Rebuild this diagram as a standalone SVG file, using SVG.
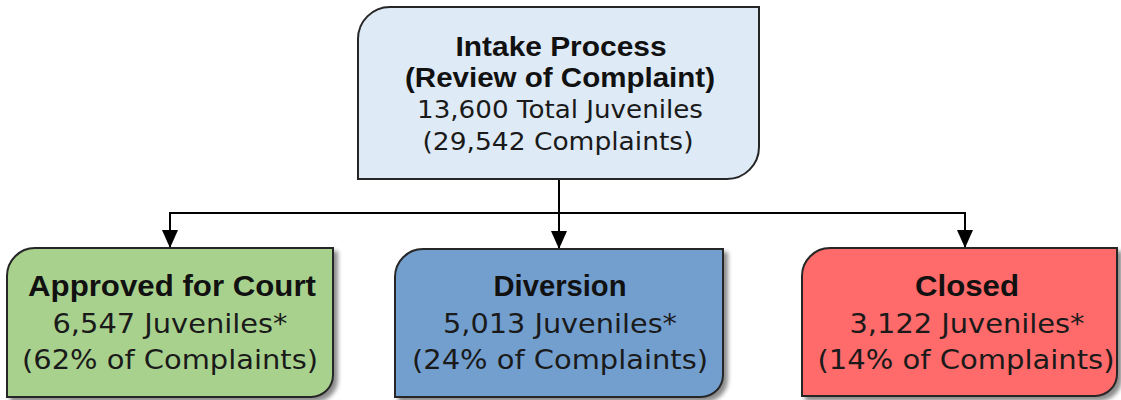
<svg xmlns="http://www.w3.org/2000/svg" width="1121" height="400" viewBox="0 0 1121 400">
<style>
.box{stroke:#262626;stroke-width:2}
.h{font-family:"Liberation Sans",Arial,sans-serif;font-weight:bold;fill:#111;text-anchor:middle}
.r{font-family:"DejaVu Sans","Liberation Sans",sans-serif;fill:#1a1a1a;text-anchor:middle}
.ht{font-size:27px}
.top{font-size:25px}
.hb{font-size:29px}
.bot{font-size:27px}
.conn{fill:none;stroke:#000;stroke-width:2}
</style>
<defs>
<marker id="arr" markerUnits="userSpaceOnUse" markerWidth="18" markerHeight="18" viewBox="0 0 18 18" refX="18" refY="9" orient="auto">
<path d="M0,1 L18,9 L0,17 Z" fill="#000"/>
</marker>
<filter id="sh" x="-5%" y="-5%" width="115%" height="120%">
<feDropShadow dx="4" dy="4" stdDeviation="2" flood-color="#000" flood-opacity="0.45"/>
</filter>
</defs>
<g id="connectors">
<path class="conn" d="M559,179 V249" marker-end="url(#arr)"/>
<path class="conn" d="M170,213 H965"/>
<path class="conn" d="M170,212 V248" marker-end="url(#arr)"/>
<path class="conn" d="M965,212 V248" marker-end="url(#arr)"/>
</g>
<g id="intake">
<path class="box" fill="#DEEAF6" d="M390,7 H759 V147 A32,32 0 0 1 727,179 H358 V39 A32,32 0 0 1 390,7 Z"/>
<text class="h ht" x="561" y="56" textLength="211" lengthAdjust="spacingAndGlyphs">Intake Process</text>
<text class="h ht" x="560" y="87" textLength="310" lengthAdjust="spacingAndGlyphs">(Review of Complaint)</text>
<text class="r top" x="560" y="118" textLength="286" lengthAdjust="spacingAndGlyphs">13,600 Total Juveniles</text>
<text class="r top" x="558" y="150" textLength="271" lengthAdjust="spacingAndGlyphs">(29,542 Complaints)</text>
</g>
<g id="approved">
<path class="box" fill="#A9D18E" filter="url(#sh)" d="M35,248 H333 V375 A22,22 0 0 1 311,397 H7 V276 A28,28 0 0 1 35,248 Z"/>
<text class="h hb" x="172" y="296" textLength="288" lengthAdjust="spacingAndGlyphs">Approved for Court</text>
<text class="r bot" x="170" y="333" textLength="235" lengthAdjust="spacingAndGlyphs">6,547 Juveniles*</text>
<text class="r bot" x="170" y="369" textLength="296" lengthAdjust="spacingAndGlyphs">(62% of Complaints)</text>
</g>
<g id="diversion">
<path class="box" fill="#739FCF" filter="url(#sh)" d="M423,249 H723 V375 A22,22 0 0 1 701,397 H395 V277 A28,28 0 0 1 423,249 Z"/>
<text class="h hb" x="560" y="296" textLength="133" lengthAdjust="spacingAndGlyphs">Diversion</text>
<text class="r bot" x="560" y="333" textLength="234" lengthAdjust="spacingAndGlyphs">5,013 Juveniles*</text>
<text class="r bot" x="560" y="369" textLength="296" lengthAdjust="spacingAndGlyphs">(24% of Complaints)</text>
</g>
<g id="closed">
<path class="box" fill="#FF6A6A" filter="url(#sh)" d="M830,248 H1117 V374 A22,22 0 0 1 1095,396 H802 V276 A28,28 0 0 1 830,248 Z"/>
<text class="h hb" x="967" y="296" textLength="104" lengthAdjust="spacingAndGlyphs">Closed</text>
<text class="r bot" x="967" y="333" textLength="235" lengthAdjust="spacingAndGlyphs">3,122 Juveniles*</text>
<text class="r bot" x="966" y="369" textLength="297" lengthAdjust="spacingAndGlyphs">(14% of Complaints)</text>
</g>
</svg>
